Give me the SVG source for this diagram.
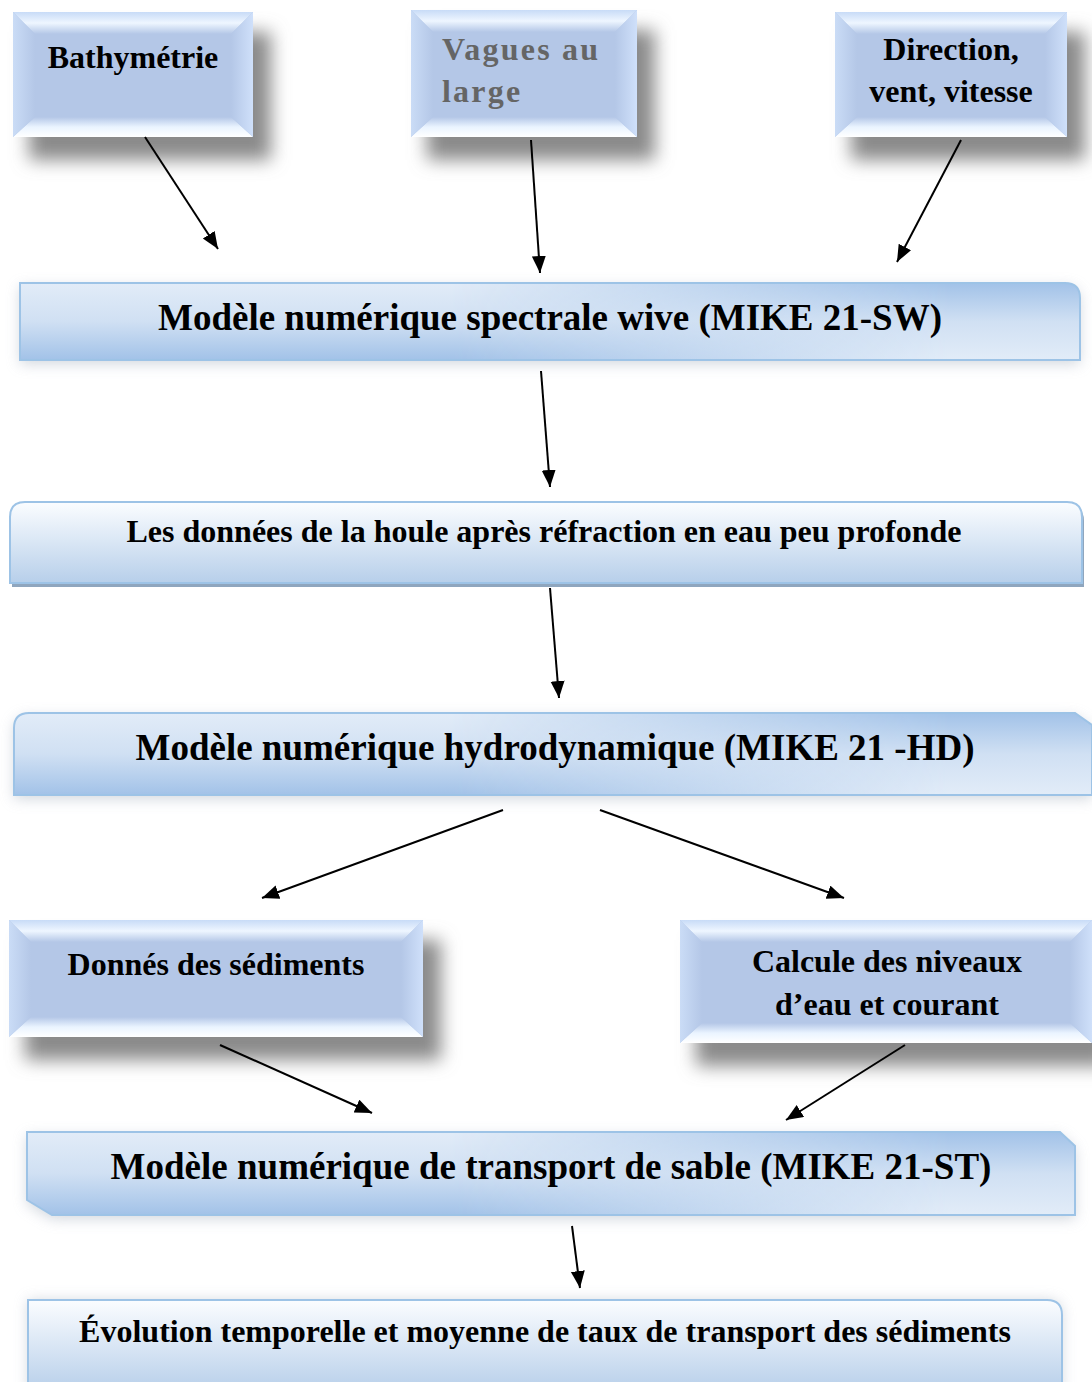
<svg xmlns="http://www.w3.org/2000/svg" width="1092" height="1382" viewBox="0 0 1092 1382">
<defs>
<style>
.t{font-family:"Liberation Serif","Times New Roman",serif;font-weight:bold;fill:#000}
.gray{fill:#656565;letter-spacing:2.2px}
.con line{stroke:#000;stroke-width:2;marker-end:url(#ah)}
.bdr{stroke:#9dc3e6;stroke-width:2}
</style>
<marker id="ah" markerUnits="userSpaceOnUse" markerWidth="20" markerHeight="16" refX="17" refY="7" orient="auto">
<path d="M0,0 L17,7 L0,14 Z" fill="#000"/>
</marker>
<filter id="sh" x="-20%" y="-20%" width="150%" height="160%"><feGaussianBlur stdDeviation="9"/></filter>
<filter id="halo" x="-5%" y="-40%" width="110%" height="180%"><feGaussianBlur stdDeviation="7"/></filter>
<linearGradient id="bt" x1="0" y1="0" x2="0" y2="1"><stop offset="0" stop-color="#c8dbf7"/><stop offset="0.5" stop-color="#eef6ff"/><stop offset="1" stop-color="#b4c7e7"/></linearGradient>
<linearGradient id="bb" x1="0" y1="0" x2="0" y2="1"><stop offset="0" stop-color="#b4c7e7"/><stop offset="0.5" stop-color="#eaf4ff"/><stop offset="1" stop-color="#ffffff"/></linearGradient>
<linearGradient id="bl" x1="0" y1="0" x2="1" y2="0"><stop offset="0" stop-color="#cadcf6"/><stop offset="1" stop-color="#b4c7e7"/></linearGradient>
<linearGradient id="br" x1="0" y1="0" x2="1" y2="0"><stop offset="0" stop-color="#b4c7e7"/><stop offset="1" stop-color="#cfe0fa"/></linearGradient>
<linearGradient id="gA" x1="0" y1="0" x2="0" y2="1"><stop offset="0" stop-color="#e2ecf8"/><stop offset="0.5" stop-color="#d0e0f3"/><stop offset="1" stop-color="#a2c2e8"/></linearGradient>
<linearGradient id="gB" x1="0" y1="0" x2="0" y2="1"><stop offset="0" stop-color="#a2c2e8"/><stop offset="0.5" stop-color="#d0e0f3"/><stop offset="1" stop-color="#e2ecf8"/></linearGradient>
<linearGradient id="gW" x1="0" y1="0" x2="0" y2="1"><stop offset="0" stop-color="#fbfdff"/><stop offset="1" stop-color="#b7cfea"/></linearGradient>
<linearGradient id="mf" gradientUnits="userSpaceOnUse" x1="450" y1="0" x2="950" y2="0"><stop offset="0" stop-color="#000"/><stop offset="1" stop-color="#fff"/></linearGradient>
<mask id="mk" maskUnits="userSpaceOnUse" x="0" y="0" width="1092" height="1382"><rect x="0" y="0" width="1092" height="1382" fill="url(#mf)"/></mask>
</defs>
<rect width="1092" height="1382" fill="#fff"/>

<g id="bathymetrie">
<rect x="29" y="32" width="242" height="128" fill="#8a8a8a" filter="url(#sh)"/>
<rect x="13" y="12" width="240" height="125" fill="#b4c7e7"/>
<polygon points="13,12 253,12 231,34 35,34" fill="url(#bt)"/>
<polygon points="13,137 253,137 231,117 35,117" fill="url(#bb)"/>
<polygon points="13,12 35,34 35,117 13,137" fill="url(#bl)"/>
<polygon points="253,12 231,34 231,117 253,137" fill="url(#br)"/>
<text class="t" x="133" y="68" font-size="32" text-anchor="middle">Bathymétrie</text>
</g>

<g id="vagues">
<rect x="427" y="30" width="228" height="130" fill="#8a8a8a" filter="url(#sh)"/>
<rect x="411" y="10" width="226" height="127" fill="#b4c7e7"/>
<polygon points="411,10 637,10 615,32 433,32" fill="url(#bt)"/>
<polygon points="411,137 637,137 615,117 433,117" fill="url(#bb)"/>
<polygon points="411,10 433,32 433,117 411,137" fill="url(#bl)"/>
<polygon points="637,10 615,32 615,117 637,137" fill="url(#br)"/>
<text class="t gray" x="442" y="60" font-size="32">Vagues au</text>
<text class="t gray" x="442" y="102" font-size="32">large</text>
</g>

<g id="direction">
<rect x="851" y="32" width="234" height="128" fill="#8a8a8a" filter="url(#sh)"/>
<rect x="835" y="12" width="232" height="125" fill="#b4c7e7"/>
<polygon points="835,12 1067,12 1045,34 857,34" fill="url(#bt)"/>
<polygon points="835,137 1067,137 1045,117 857,117" fill="url(#bb)"/>
<polygon points="835,12 857,34 857,117 835,137" fill="url(#bl)"/>
<polygon points="1067,12 1045,34 1045,117 1067,137" fill="url(#br)"/>
<text class="t" x="951" y="60" font-size="32" text-anchor="middle">Direction,</text>
<text class="t" x="951" y="102" font-size="32" text-anchor="middle">vent, vitesse</text>
</g>

<g id="mike-sw">
<path d="M20,283 H1065 Q1080,283 1080,298 V360 H20 Z" fill="#c3cad4" opacity="0.75" transform="translate(0,4)" filter="url(#halo)"/>
<path d="M20,283 H1065 Q1080,283 1080,298 V360 H20 Z" fill="url(#gA)"/>
<path d="M20,283 H1065 Q1080,283 1080,298 V360 H20 Z" fill="url(#gB)" mask="url(#mk)"/>
<path d="M20,283 H1065 Q1080,283 1080,298 V360 H20 Z" fill="none" class="bdr"/>
<text class="t" x="550" y="330" font-size="37" text-anchor="middle">Modèle numérique spectrale wive (MIKE 21-SW)</text>
</g>

<g id="donnees-houle">
<path d="M10,517 Q10,502 25,502 H1067 Q1082,502 1082,517 V583 H10 Z" fill="#8fa6be" transform="translate(2,4)"/>
<path d="M10,517 Q10,502 25,502 H1067 Q1082,502 1082,517 V583 H10 Z" fill="url(#gW)" class="bdr"/>
<text class="t" x="544" y="542" font-size="32" text-anchor="middle">Les données de la houle après réfraction en eau peu profonde</text>
</g>

<g id="mike-hd">
<path d="M14,728 Q14,713 29,713 H1075 L1092,725 V795 H14 Z" fill="#c3cad4" opacity="0.75" transform="translate(0,4)" filter="url(#halo)"/>
<path d="M14,728 Q14,713 29,713 H1075 L1092,725 V795 H14 Z" fill="url(#gA)"/>
<path d="M14,728 Q14,713 29,713 H1075 L1092,725 V795 H14 Z" fill="url(#gB)" mask="url(#mk)"/>
<path d="M14,728 Q14,713 29,713 H1075 L1092,725 V795 H14 Z" fill="none" class="bdr"/>
<text class="t" x="555" y="760" font-size="37" text-anchor="middle">Modèle numérique hydrodynamique (MIKE 21 -HD)</text>
</g>

<g id="sediments">
<rect x="25" y="940" width="416" height="120" fill="#8a8a8a" filter="url(#sh)"/>
<rect x="9" y="920" width="414" height="117" fill="#b4c7e7"/>
<polygon points="9,920 423,920 401,942 31,942" fill="url(#bt)"/>
<polygon points="9,1037 423,1037 401,1017 31,1017" fill="url(#bb)"/>
<polygon points="9,920 31,942 31,1017 9,1037" fill="url(#bl)"/>
<polygon points="423,920 401,942 401,1017 423,1037" fill="url(#br)"/>
<text class="t" x="216" y="975" font-size="32" text-anchor="middle">Donnés des sédiments</text>
</g>

<g id="niveaux">
<rect x="696" y="940" width="414" height="126" fill="#8a8a8a" filter="url(#sh)"/>
<rect x="680" y="920" width="412" height="123" fill="#b4c7e7"/>
<polygon points="680,920 1092,920 1070,942 702,942" fill="url(#bt)"/>
<polygon points="680,1043 1092,1043 1070,1023 702,1023" fill="url(#bb)"/>
<polygon points="680,920 702,942 702,1023 680,1043" fill="url(#bl)"/>
<polygon points="1092,920 1070,942 1070,1023 1092,1043" fill="url(#br)"/>
<text class="t" x="887" y="972" font-size="32" text-anchor="middle">Calcule des niveaux</text>
<text class="t" x="887" y="1015" font-size="32" text-anchor="middle">d’eau et courant</text>
</g>

<g id="mike-st">
<path d="M27,1132 H1060 L1075,1146 V1215 H52 L27,1200 Z" fill="#c3cad4" opacity="0.75" transform="translate(0,4)" filter="url(#halo)"/>
<path d="M27,1132 H1060 L1075,1146 V1215 H52 L27,1200 Z" fill="url(#gA)"/>
<path d="M27,1132 H1060 L1075,1146 V1215 H52 L27,1200 Z" fill="url(#gB)" mask="url(#mk)"/>
<path d="M27,1132 H1060 L1075,1146 V1215 H52 L27,1200 Z" fill="none" class="bdr"/>
<text class="t" x="551" y="1179" font-size="37" text-anchor="middle">Modèle numérique de transport de sable (MIKE 21-ST)</text>
</g>

<g id="evolution">
<path d="M28,1300 H1047 Q1062,1300 1062,1315 V1392 H28 Z" fill="#c3cad4" opacity="0.75" filter="url(#halo)"/>
<path d="M28,1300 H1047 Q1062,1300 1062,1315 V1392 H28 Z" fill="url(#gW)" class="bdr"/>
<text class="t" x="545" y="1342" font-size="32" text-anchor="middle">Évolution temporelle et moyenne de taux de transport des sédiments</text>
</g>

<g id="connectors" class="con">
<line x1="145" y1="137" x2="218" y2="249"/>
<line x1="531" y1="140" x2="540" y2="273"/>
<line x1="961" y1="140" x2="897" y2="262"/>
<line x1="541" y1="371" x2="550" y2="487"/>
<line x1="550" y1="588" x2="559" y2="698"/>
<line x1="503" y1="810" x2="262" y2="898"/>
<line x1="600" y1="810" x2="844" y2="898"/>
<line x1="220" y1="1045" x2="372" y2="1113"/>
<line x1="905" y1="1045" x2="786" y2="1120"/>
<line x1="572" y1="1226" x2="580" y2="1288"/>
</g>
</svg>
